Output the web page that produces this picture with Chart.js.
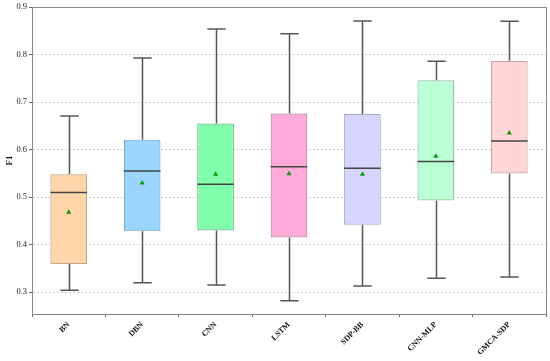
<!DOCTYPE html>
<html>
<head>
<meta charset="utf-8">
<script src="https://cdn.jsdelivr.net/npm/chart.js@4"></script>
<style>
  html, body { margin: 0; padding: 0; background: #fff; }
  #wrap { width: 550px; height: 361px; }
</style>
</head>
<body>
<div id="wrap"><canvas id="boxChart"></canvas></div>
<script>
// モデル名
const models = ['BN', 'DBN', 'CNN', 'LSTM', 'SDP-BB', 'CNN-MLP', 'GMCA-SDP'];

// 箱ひげ図の値 (F1)
const whiskerLow  = [0.304, 0.320, 0.315, 0.282, 0.313, 0.329, 0.332];
const q1Values    = [0.359, 0.428, 0.430, 0.415, 0.442, 0.493, 0.550];
const medians     = [0.510, 0.555, 0.527, 0.564, 0.561, 0.575, 0.618];
const q3Values    = [0.548, 0.621, 0.655, 0.676, 0.675, 0.746, 0.787];
const whiskerHigh = [0.671, 0.793, 0.854, 0.844, 0.871, 0.786, 0.870];
const means       = [0.468, 0.530, 0.548, 0.549, 0.548, 0.586, 0.635];

// 目盛り
const yTicks = [0.3, 0.4, 0.5, 0.6, 0.7, 0.8, 0.9];
const yTitle = 'F1';

const boxColors  = ['#FFD6AA', '#99D5FF', '#80FFAA', '#FFAAD9', '#D5D5FF', '#BBFFD5', '#FFD5D6'];
const edgeColors = ['#C2A487', '#7FA6C2', '#6DBE8C', '#C28AA8', '#A6A6C4', '#92C2A6', '#C4A6A8'];

const serif = '"Liberation Serif", "Times New Roman", serif';

// ひげ・中央値・枠線を描くプラグイン
const boxPlotPlugin = {
    id: 'boxPlot',
    beforeDatasetsDraw(chart) {
        const ctx = chart.ctx;
        const y = chart.scales.y;
        const meta = chart.getDatasetMeta(0);
        ctx.save();
        ctx.strokeStyle = '#555';
        ctx.lineWidth = 1.5;
        meta.data.forEach((bar, i) => {
            const cx = Math.round(bar.x) + 0.5;
            const cap = bar.width / 4;
            const yLo = y.getPixelForValue(whiskerLow[i]);
            const yHi = y.getPixelForValue(whiskerHigh[i]);
            const yQ1 = y.getPixelForValue(q1Values[i]);
            const yQ3 = y.getPixelForValue(q3Values[i]);
            ctx.beginPath();
            ctx.moveTo(cx, yHi); ctx.lineTo(cx, yQ3);
            ctx.moveTo(cx, yQ1); ctx.lineTo(cx, yLo);
            ctx.moveTo(cx - cap, yHi); ctx.lineTo(cx + cap, yHi);
            ctx.moveTo(cx - cap, yLo); ctx.lineTo(cx + cap, yLo);
            ctx.stroke();
        });
        ctx.restore();
    },
    afterDatasetDraw(chart, args) {
        if (args.index !== 0) return;
        const ctx = chart.ctx;
        const y = chart.scales.y;
        ctx.save();
        ctx.strokeStyle = '#444';
        ctx.lineWidth = 1.5;
        args.meta.data.forEach((bar, i) => {
            const ym = y.getPixelForValue(medians[i]);
            ctx.beginPath();
            ctx.moveTo(bar.x - bar.width / 2, ym);
            ctx.lineTo(bar.x + bar.width / 2, ym);
            ctx.stroke();
        });
        ctx.restore();
    },
    afterDraw(chart) {
        // 枠線
        const a = chart.chartArea;
        const ctx = chart.ctx;
        ctx.save();
        ctx.strokeStyle = '#888';
        ctx.lineWidth = 1;
        ctx.strokeRect(Math.round(a.left) + 0.5, Math.round(a.top) + 0.5,
            Math.round(a.right - a.left), Math.round(a.bottom - a.top));
        // 縦軸タイトル
        ctx.translate(10, (a.top + a.bottom) / 2);
        ctx.rotate(-Math.PI / 2);
        ctx.font = 'bold 9px ' + serif;
        ctx.fillStyle = '#111';
        ctx.textAlign = 'center';
        ctx.textBaseline = 'middle';
        ctx.fillText(yTitle, 0, 0);
        ctx.restore();
    }
};

const ctx = document.getElementById('boxChart').getContext('2d');
new Chart(ctx, {
    type: 'bar',
    data: {
        labels: models,
        datasets: [
            {
                label: 'box',
                data: models.map((m, i) => [q1Values[i], q3Values[i]]),
                backgroundColor: boxColors,
                borderColor: edgeColors,
                borderWidth: 1.2,
                borderSkipped: false,
                categoryPercentage: 1.0,
                barPercentage: 0.5,
                order: 2
            },
            {
                type: 'line',
                label: 'mean',
                data: means,
                showLine: false,
                pointStyle: 'triangle',
                pointRadius: 3,
                backgroundColor: '#0A9A0A',
                borderColor: '#0A9A0A',
                borderWidth: 0,
                order: 1
            }
        ]
    },
    options: {
        responsive: true,
        maintainAspectRatio: false,
        animation: false,
        layout: { padding: { top: 7, right: 4, left: 0, bottom: 0 } },
        plugins: {
            legend: { display: false },
            tooltip: { enabled: false }
        },
        scales: {
            x: {
                grid: { drawOnChartArea: false, tickLength: 3, tickColor: '#666' },
                border: { color: '#888' },
                ticks: {
                    maxRotation: 45,
                    minRotation: 45,
                    color: '#111',
                    font: { family: serif, size: 8, weight: 'bold' }
                },
                afterFit(scale) { scale.height = 47; }
            },
            y: {
                min: 0.254,
                max: 0.9,
                afterBuildTicks(scale) {
                    scale.ticks = yTicks.map(v => ({ value: v }));
                },
                grid: { color: '#cfcfcf', lineWidth: 1, tickLength: 3, tickColor: '#666' },
                border: { color: '#888', dash: [2, 2] },
                ticks: {
                    padding: 2,
                    color: '#222',
                    font: { family: serif, size: 8.5 },
                    callback: v => v.toFixed(1)
                },
                afterFit(scale) { scale.width = 32; }
            }
        }
    },
    plugins: [boxPlotPlugin]
});
</script>
</body>
</html>
